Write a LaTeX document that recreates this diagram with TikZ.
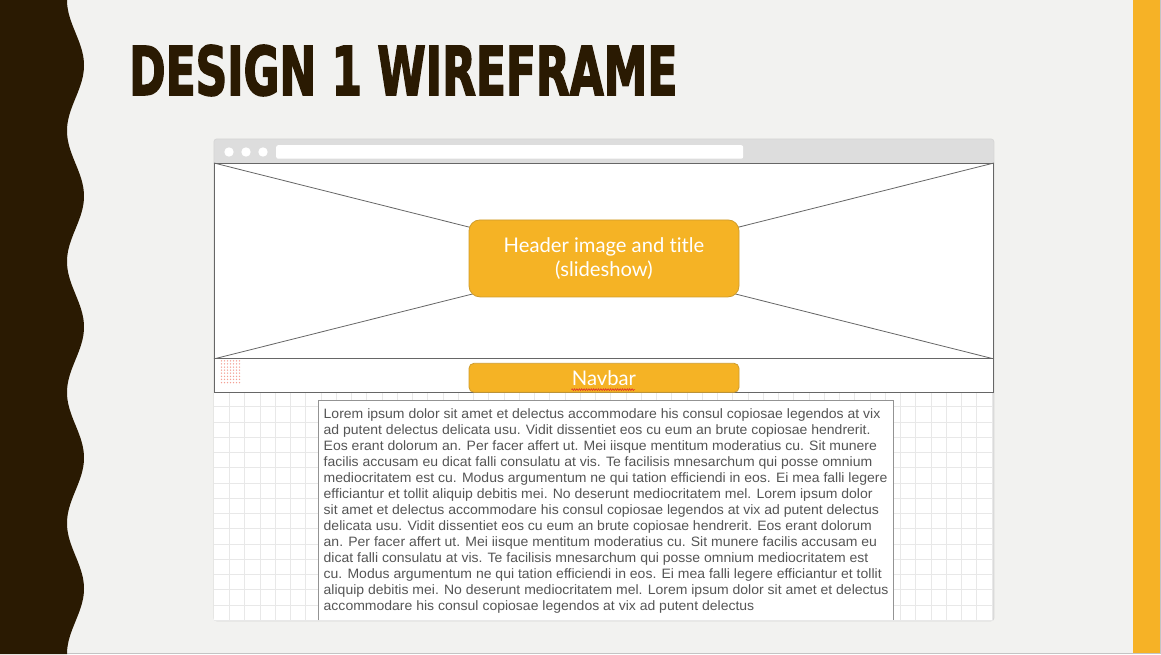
\documentclass[tikz,border=0pt]{standalone}
\usepackage{fontspec}
\usepackage{graphicx}
\usetikzlibrary{decorations.pathmorphing}

\newfontfamily\titlefont[FakeBold=2.5]{DejaVu Sans Condensed}
\newfontfamily\boxfont[Ligatures=NoCommon]{Lato}
\newfontfamily\bodyfont[FakeStretch=1.03]{Liberation Sans}

\definecolor{slidebg}{HTML}{F2F2F0}
\definecolor{darkbrown}{HTML}{2A1A02}
\definecolor{accent}{HTML}{F6B226}
\definecolor{boxfill}{HTML}{F5B325}
\definecolor{boxedge}{HTML}{CF9C2C}
\definecolor{slideedge}{HTML}{C4C4C4}
\definecolor{framec}{HTML}{D6D6D6}
\definecolor{barc}{HTML}{DDDDDD}
\definecolor{wireline}{HTML}{666666}
\definecolor{gridc}{HTML}{E8E8E8}
\definecolor{textc}{HTML}{555555}
\definecolor{dotc}{HTML}{F4A095}
\definecolor{spellc}{HTML}{E0302A}

\begin{document}
\begin{tikzpicture}[x=1pt,y=-1pt,
  wirebox/.style={draw=wireline, line width=0.9pt, fill=white, inner sep=0, anchor=north west},
  diag/.style={draw=wireline, line width=0.8pt},
  orangebox/.style={draw=boxedge, line width=0.8pt, fill=boxfill, rounded corners=11pt,
    inner sep=0, text=white, align=center, minimum width=270pt},
  winbtn/.style={circle, fill=white, inner sep=0, minimum size=9.4pt},
  gridline/.style={draw=gridc, line width=0.8pt},
  spell/.style={draw=spellc, line width=0.6pt, decorate,
    decoration={zigzag, segment length=2.4pt, amplitude=0.9pt}}]
\useasboundingbox (0,0) rectangle (1161,654);

% slide background, accent bar and slide edge
\fill[slidebg] (0,0) rectangle (1161,654);
\fill[accent] (1133,0) rectangle (1160,652.5);
\draw[slideedge, line width=0.8pt] (0,653.5) -- (1161,653.5);
\draw[slideedge, line width=0.8pt] (1160.6,0) -- (1160.6,654);

% wavy dark band on the left
\fill[darkbrown] (0,0) -- plot[domain=0:654, samples=260, variable=\t]
  ({75.5-8.5*cos(\t/130.8*360)}, \t) -- (0,654) -- cycle;

% title
\node[anchor=base west, inner sep=0, text=darkbrown] (title) at (129,95)
  {\resizebox{548pt}{50pt}{\titlefont\bfseries DESIGN 1 WIREFRAME}};

% browser window
\node[draw=framec, fill=barc, rounded corners=3pt, line width=0.8pt, inner sep=0,
  anchor=north west, minimum width=780pt, minimum height=482pt] (win) at (213.5,138.5) {};
\node[winbtn] (b1) at (229,152) {};
\node[winbtn] (b2) at (246,152) {};
\node[winbtn] (b3) at (263,152) {};
\node[fill=white, rounded corners=2pt, inner sep=0, anchor=north west,
  minimum width=467pt, minimum height=13.5pt] (url) at (276,145) {};

% page body with grid
\node[fill=white, inner sep=0, anchor=north west, minimum width=779pt,
  minimum height=228pt] (body) at (214,392) {};
\begin{scope}
  \clip (body.north west) rectangle (body.south east);
  \foreach \i in {0,...,50} \draw[gridline] (229.5+15.25*\i,392) -- ++(0,228);
  \foreach \j in {0,...,14} \draw[gridline] (214,406.8+15.25*\j) -- ++(779,0);
\end{scope}

% header image placeholder
\node[wirebox, minimum width=779pt, minimum height=195pt] (img) at (214,163) {};
\draw[diag] (img.north west) -- (img.south east);
\draw[diag] (img.south west) -- (img.north east);

% navbar row
\node[wirebox, minimum width=779pt, minimum height=34pt] (navrow) at (214,358) {};
\foreach \i in {0,...,6}
  \foreach \j in {0,...,7}
    \fill[dotc] (221.5+3*\i, 360.8+3.1*\j) circle (0.75);

% text block
\node[fill=white, inner sep=0, anchor=north west, minimum width=575pt,
  minimum height=220pt] (tbox) at (318,400) {};
\draw[draw=gray!85, line width=1pt] (tbox.south west) |- (tbox.north east) -- (tbox.south east);
\node[anchor=north west, align=left, inner sep=0, text=textc,
  font=\bodyfont\fontsize{13.6}{16}\selectfont] (lorem) at (323.5,408.9)
{Lorem ipsum dolor sit amet et delectus accommodare his consul copiosae legendos at vix\\
ad putent delectus delicata usu. Vidit dissentiet eos cu eum an brute copiosae hendrerit.\\
Eos erant dolorum an. Per facer affert ut. Mei iisque mentitum moderatius cu. Sit munere\\
facilis accusam eu dicat falli consulatu at vis. Te facilisis mnesarchum qui posse omnium\\
mediocritatem est cu. Modus argumentum ne qui tation efficiendi in eos. Ei mea falli legere\\
efficiantur et tollit aliquip debitis mei. No deserunt mediocritatem mel. Lorem ipsum dolor\\
sit amet et delectus accommodare his consul copiosae legendos at vix ad putent delectus\\
delicata usu. Vidit dissentiet eos cu eum an brute copiosae hendrerit. Eos erant dolorum\\
an. Per facer affert ut. Mei iisque mentitum moderatius cu. Sit munere facilis accusam eu\\
dicat falli consulatu at vis. Te facilisis mnesarchum qui posse omnium mediocritatem est\\
cu. Modus argumentum ne qui tation efficiendi in eos. Ei mea falli legere efficiantur et tollit\\
aliquip debitis mei. No deserunt mediocritatem mel. Lorem ipsum dolor sit amet et delectus\\
accommodare his consul copiosae legendos at vix ad putent delectus};

% orange labels
\node[orangebox, minimum height=77pt, font=\boxfont\fontsize{20.2}{24.5}\selectfont]
  (hdr) at (604,258.4) {Header image and title\\(slideshow)};
\node[orangebox, minimum height=29pt, rounded corners=5pt,
  font=\boxfont\fontsize{20.2}{24.5}\selectfont] (navbtn) at (604,377.8) {Navbar};
\coordinate (sq1) at (571.5,389.6);
\coordinate (sq2) at (635,389.6);
\draw[spell] (sq1) -- (sq2);
\end{tikzpicture}
\end{document}
